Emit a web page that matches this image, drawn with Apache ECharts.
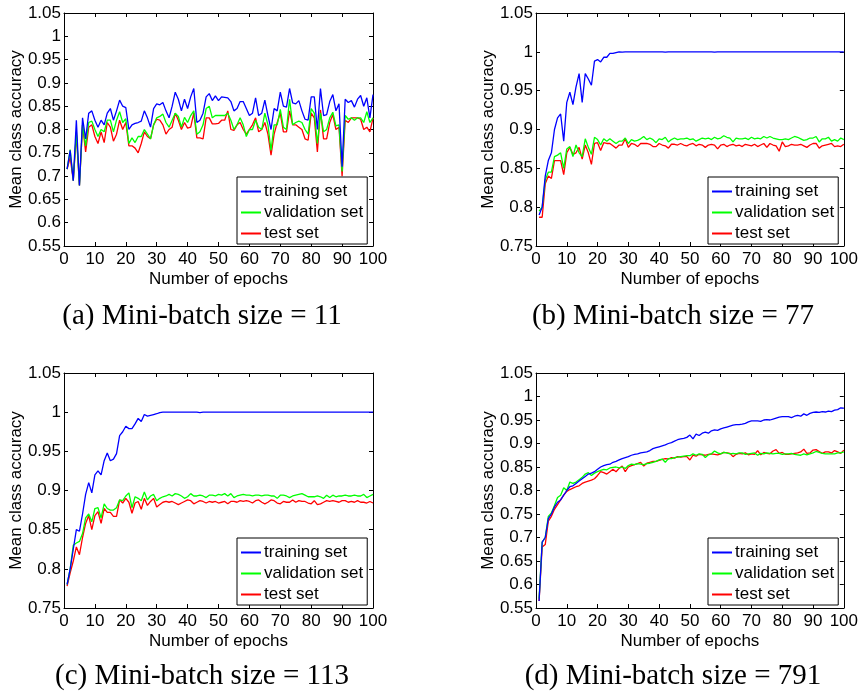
<!DOCTYPE html>
<html>
<head>
<meta charset="utf-8">
<script src="https://cdn.jsdelivr.net/npm/echarts@6/dist/echarts.min.js"></script>
<style>html,body{margin:0;padding:0;background:#fff}#c{width:861px;height:691px}</style>
</head>
<body>
<div id="c"></div>
<script>
const epochs = Array.from({length: 100}, (_, i) => i + 1);
const seriesNames = ['training set', 'validation set', 'test set'];
const captions = ['(a) Mini-batch size = 11', '(b) Mini-batch size = 77', '(c) Mini-batch size = 113', '(d) Mini-batch size = 791'];
const xTicks = {min: 0, max: 100, interval: 10};
const yRanges = [[0.55, 1.05], [0.75, 1.05], [0.75, 1.05], [0.55, 1.05]];

// (a) mini-batch 11
const trainA = [0.715,0.755,0.69,0.82,0.68,0.825,0.78,0.835,0.84,0.82,0.805,0.82,0.81,0.835,0.845,0.82,0.84,0.863,0.85,0.847,
0.80,0.81,0.813,0.815,0.818,0.84,0.825,0.805,0.845,0.855,0.853,0.858,0.84,0.825,0.85,0.88,0.865,0.84,0.865,0.845,
0.87,0.888,0.815,0.82,0.835,0.87,0.877,0.862,0.872,0.862,0.87,0.869,0.868,0.86,0.84,0.845,0.86,0.86,0.845,0.83,
0.835,0.868,0.83,0.835,0.863,0.83,0.80,0.845,0.84,0.88,0.85,0.848,0.888,0.857,0.855,0.862,0.84,0.822,0.82,0.87,
0.87,0.80,0.888,0.83,0.832,0.86,0.875,0.84,0.855,0.72,0.865,0.858,0.862,0.848,0.865,0.873,0.85,0.868,0.825,0.875];
const validA = [0.715,0.757,0.69,0.795,0.68,0.81,0.765,0.815,0.818,0.80,0.785,0.80,0.795,0.82,0.82,0.795,0.82,0.838,0.815,0.823,
0.77,0.782,0.772,0.785,0.785,0.80,0.79,0.78,0.81,0.825,0.828,0.833,0.815,0.805,0.82,0.835,0.828,0.805,0.826,0.815,
0.83,0.84,0.79,0.795,0.81,0.845,0.85,0.825,0.83,0.83,0.83,0.83,0.835,0.82,0.80,0.81,0.825,0.81,0.785,0.80,
0.80,0.82,0.805,0.80,0.835,0.81,0.755,0.81,0.81,0.843,0.805,0.80,0.865,0.81,0.815,0.818,0.815,0.80,0.79,0.845,
0.835,0.77,0.835,0.795,0.80,0.825,0.837,0.808,0.81,0.71,0.83,0.822,0.825,0.82,0.825,0.825,0.815,0.838,0.815,0.825];
const testA = [0.715,0.74,0.69,0.79,0.68,0.81,0.752,0.805,0.81,0.785,0.77,0.795,0.772,0.815,0.805,0.775,0.79,0.82,0.80,0.815,
0.765,0.765,0.76,0.75,0.77,0.795,0.785,0.78,0.81,0.822,0.82,0.81,0.79,0.80,0.805,0.835,0.82,0.80,0.815,0.803,
0.805,0.835,0.782,0.782,0.78,0.825,0.825,0.812,0.812,0.813,0.82,0.82,0.84,0.80,0.798,0.81,0.815,0.80,0.79,0.80,
0.81,0.825,0.795,0.80,0.815,0.79,0.745,0.79,0.815,0.835,0.795,0.795,0.84,0.81,0.81,0.805,0.80,0.78,0.777,0.835,
0.825,0.752,0.842,0.78,0.78,0.815,0.832,0.80,0.805,0.70,0.82,0.815,0.825,0.825,0.825,0.822,0.80,0.805,0.795,0.825];

// (b) mini-batch 77
const trainB = [0.79,0.80,0.84,0.86,0.87,0.90,0.915,0.92,0.885,0.935,0.948,0.932,0.955,0.972,0.935,0.972,0.965,0.957,0.988,0.99,
0.987,0.993,0.993,0.998,0.998,0.999,1.0,0.9995,1.0,1.0,1.0,1.0,1.0,1.0,1.0,1.0,1.0,1.0,1.0,1.0,
1.0,0.9995,1.0,1.0,1.0,1.0,1.0,1.0,1.0,1.0,1.0,1.0,1.0,1.0,1.0,1.0,1.0,0.9995,1.0,1.0,
1.0,1.0,1.0,1.0,1.0,1.0,1.0,1.0,1.0,1.0,1.0,1.0,1.0,1.0,1.0,1.0,1.0,1.0,1.0,1.0,
1.0,1.0,1.0,1.0,1.0,1.0,1.0,1.0,1.0,1.0,1.0,1.0,1.0,1.0,1.0,1.0,1.0,1.0,1.0,1.0];
const validB = [0.795,0.80,0.835,0.845,0.845,0.865,0.867,0.87,0.85,0.875,0.878,0.865,0.88,0.87,0.865,0.888,0.877,0.868,0.89,0.887,
0.88,0.888,0.885,0.888,0.885,0.882,0.885,0.885,0.889,0.882,0.887,0.885,0.886,0.888,0.891,0.887,0.889,0.887,0.883,0.888,
0.887,0.89,0.884,0.887,0.889,0.887,0.888,0.888,0.889,0.887,0.888,0.885,0.887,0.889,0.888,0.889,0.887,0.89,0.888,0.889,
0.892,0.89,0.889,0.884,0.889,0.888,0.888,0.889,0.887,0.89,0.888,0.889,0.888,0.891,0.889,0.891,0.889,0.888,0.887,0.887,
0.888,0.887,0.889,0.891,0.89,0.888,0.886,0.887,0.889,0.889,0.891,0.884,0.888,0.888,0.89,0.885,0.887,0.885,0.889,0.887];
const testB = [0.787,0.787,0.83,0.84,0.837,0.86,0.86,0.86,0.842,0.87,0.877,0.868,0.87,0.877,0.862,0.88,0.87,0.855,0.882,0.883,
0.873,0.883,0.882,0.882,0.879,0.876,0.88,0.88,0.888,0.877,0.882,0.881,0.878,0.882,0.882,0.882,0.881,0.878,0.878,0.882,
0.88,0.879,0.876,0.881,0.881,0.88,0.882,0.88,0.879,0.881,0.882,0.879,0.881,0.88,0.877,0.88,0.881,0.88,0.875,0.88,
0.881,0.878,0.88,0.881,0.879,0.88,0.878,0.881,0.88,0.879,0.881,0.878,0.88,0.882,0.877,0.882,0.88,0.879,0.872,0.884,
0.878,0.879,0.881,0.88,0.88,0.881,0.879,0.877,0.88,0.882,0.882,0.876,0.879,0.88,0.881,0.882,0.878,0.879,0.878,0.881];

// (c) mini-batch 113
const trainC = [0.78,0.80,0.825,0.85,0.848,0.87,0.895,0.91,0.897,0.92,0.925,0.92,0.938,0.948,0.938,0.94,0.947,0.97,0.975,0.982,
0.979,0.979,0.985,0.992,0.988,0.997,0.995,0.996,0.997,0.998,0.9995,1.0,1.0,1.0,1.0,1.0,1.0,1.0,1.0,1.0,
1.0,1.0,1.0,0.9995,1.0,1.0,1.0,1.0,1.0,1.0,1.0,1.0,1.0,1.0,1.0,1.0,1.0,1.0,1.0,1.0,
1.0,1.0,1.0,1.0,1.0,1.0,1.0,1.0,1.0,1.0,1.0,1.0,1.0,1.0,1.0,1.0,1.0,1.0,1.0,1.0,
1.0,1.0,1.0,1.0,1.0,1.0,1.0,1.0,1.0,1.0,1.0,1.0,1.0,1.0,1.0,1.0,1.0,1.0,1.0,1.0];
const validC = [0.78,0.80,0.83,0.833,0.835,0.845,0.865,0.87,0.86,0.877,0.878,0.865,0.883,0.877,0.875,0.875,0.878,0.888,0.887,0.893,
0.897,0.878,0.892,0.89,0.887,0.898,0.888,0.893,0.895,0.887,0.89,0.892,0.893,0.895,0.893,0.896,0.895,0.893,0.89,0.892,
0.896,0.893,0.893,0.894,0.893,0.891,0.894,0.894,0.893,0.895,0.894,0.896,0.893,0.896,0.891,0.893,0.894,0.895,0.894,0.894,
0.893,0.894,0.894,0.893,0.894,0.894,0.893,0.893,0.89,0.894,0.894,0.893,0.891,0.893,0.894,0.895,0.896,0.894,0.892,0.892,
0.892,0.893,0.892,0.89,0.894,0.891,0.894,0.892,0.893,0.893,0.894,0.893,0.893,0.894,0.893,0.893,0.895,0.891,0.893,0.895];
const testC = [0.778,0.795,0.81,0.828,0.818,0.84,0.858,0.868,0.85,0.868,0.873,0.858,0.877,0.872,0.872,0.867,0.867,0.888,0.884,0.89,
0.885,0.871,0.884,0.886,0.876,0.89,0.881,0.886,0.89,0.879,0.882,0.885,0.886,0.885,0.886,0.884,0.882,0.884,0.886,0.888,
0.887,0.883,0.885,0.887,0.886,0.884,0.886,0.885,0.886,0.884,0.885,0.886,0.883,0.886,0.886,0.885,0.887,0.886,0.887,0.886,
0.884,0.887,0.888,0.885,0.883,0.885,0.888,0.887,0.884,0.883,0.886,0.885,0.885,0.888,0.885,0.887,0.886,0.886,0.884,0.883,
0.887,0.882,0.883,0.885,0.887,0.886,0.887,0.886,0.885,0.887,0.887,0.885,0.886,0.885,0.887,0.885,0.885,0.884,0.886,0.884];

// (d) mini-batch 791
const trainD = [0.565,0.69,0.70,0.74,0.75,0.765,0.775,0.78,0.79,0.80,0.808,0.81,0.815,0.82,0.825,0.83,0.835,0.837,0.84,0.845,
0.85,0.853,0.855,0.856,0.86,0.862,0.865,0.868,0.87,0.872,0.875,0.877,0.878,0.88,0.881,0.882,0.885,0.889,0.891,0.893,
0.895,0.897,0.90,0.902,0.905,0.908,0.91,0.911,0.913,0.918,0.91,0.92,0.917,0.922,0.924,0.922,0.927,0.929,0.928,0.931,
0.933,0.935,0.937,0.939,0.94,0.94,0.941,0.943,0.946,0.948,0.948,0.948,0.947,0.95,0.951,0.95,0.952,0.954,0.956,0.957,
0.957,0.957,0.955,0.958,0.96,0.958,0.963,0.96,0.964,0.966,0.967,0.966,0.968,0.967,0.969,0.968,0.971,0.972,0.976,0.975];
const validD = [0.57,0.69,0.70,0.745,0.752,0.768,0.785,0.79,0.806,0.80,0.818,0.815,0.818,0.823,0.828,0.835,0.838,0.832,0.837,0.84,
0.843,0.845,0.844,0.848,0.849,0.85,0.848,0.85,0.847,0.853,0.856,0.855,0.857,0.856,0.855,0.857,0.858,0.86,0.862,0.865,
0.867,0.86,0.868,0.868,0.87,0.871,0.872,0.873,0.874,0.874,0.878,0.875,0.878,0.877,0.87,0.876,0.878,0.884,0.88,0.878,
0.881,0.88,0.878,0.879,0.878,0.88,0.88,0.877,0.878,0.879,0.88,0.875,0.879,0.878,0.88,0.879,0.878,0.879,0.879,0.877,
0.878,0.878,0.879,0.877,0.876,0.875,0.878,0.876,0.878,0.88,0.883,0.881,0.879,0.878,0.878,0.878,0.878,0.88,0.88,0.882];
const testD = [0.565,0.68,0.685,0.735,0.745,0.76,0.77,0.78,0.79,0.798,0.802,0.805,0.808,0.81,0.815,0.818,0.82,0.822,0.825,0.832,
0.84,0.838,0.835,0.84,0.845,0.84,0.847,0.852,0.84,0.85,0.853,0.855,0.857,0.86,0.852,0.858,0.86,0.862,0.862,0.864,
0.866,0.868,0.867,0.87,0.869,0.872,0.871,0.872,0.872,0.865,0.875,0.873,0.877,0.876,0.875,0.877,0.878,0.877,0.876,0.878,
0.881,0.88,0.879,0.872,0.877,0.879,0.878,0.88,0.876,0.878,0.877,0.885,0.876,0.881,0.879,0.878,0.884,0.887,0.879,0.881,
0.877,0.877,0.878,0.879,0.88,0.882,0.888,0.879,0.88,0.886,0.887,0.883,0.879,0.882,0.882,0.88,0.885,0.882,0.879,0.886];

const panelData = [[trainA, validA, testA], [trainB, validB, testB], [trainC, validC, testC], [trainD, validD, testD]];
const colors = ['#0000ff', '#00ff00', '#ff0000'];

// layout
const grids = [
  {left: 64, top: 13, width: 309, height: 233},
  {left: 536, top: 13, width: 309, height: 233},
  {left: 64, top: 373, width: 309, height: 235},
  {left: 536, top: 373, width: 309, height: 235}
];
const legendPos = [
  {left: 237, top: 177}, {left: 708, top: 177}, {left: 237, top: 538}, {left: 708, top: 538}
];
const captionPos = [[202, 316], [673, 316], [202, 676], [673, 676]];
const SANS = '"Liberation Sans", Arial, Helvetica, sans-serif';
const FS = 17;

const xAxis = [], yAxis = [], series = [], legend = [], graphic = [];
grids.forEach((g, i) => {
  const tick = {show: true, inside: true, length: 4, lineStyle: {color: '#000', width: 1}};
  const line = {show: true, onZero: false, lineStyle: {color: '#000', width: 1}};
  xAxis.push({type: 'value', gridIndex: i, position: 'bottom', min: xTicks.min, max: xTicks.max, interval: xTicks.interval,
    axisLine: line, axisTick: tick, splitLine: {show: false},
    axisLabel: {color: '#000', fontFamily: SANS, fontSize: FS, margin: 5},
    name: 'Number of epochs', nameLocation: 'middle', nameGap: 25, nameMoveOverlap: false,
    nameTextStyle: {color: '#000', fontFamily: SANS, fontSize: FS}});
  xAxis.push({type: 'value', gridIndex: i, position: 'top', min: xTicks.min, max: xTicks.max, interval: xTicks.interval,
    axisLine: line, axisTick: tick, splitLine: {show: false}, axisLabel: {show: false}});
  const [ymin, ymax] = yRanges[i];
  yAxis.push({type: 'value', gridIndex: i, position: 'left', min: ymin, max: ymax, interval: 0.05,
    axisLine: line, axisTick: tick, splitLine: {show: false},
    axisLabel: {color: '#000', fontFamily: SANS, fontSize: FS, margin: 3},
    name: 'Mean class accuracy', nameLocation: 'middle', nameGap: 39, nameMoveOverlap: false,
    nameTextStyle: {color: '#000', fontFamily: SANS, fontSize: FS}});
  yAxis.push({type: 'value', gridIndex: i, position: 'right', min: ymin, max: ymax, interval: 0.05,
    axisLine: line, axisTick: tick, splitLine: {show: false}, axisLabel: {show: false}});
  panelData[i].forEach((vals, k) => {
    series.push({type: 'line', name: seriesNames[k], xAxisIndex: 2 * i, yAxisIndex: 2 * i,
      data: epochs.map((e, j) => [e, vals[j]]), symbol: 'none', silent: true, animation: false,
      lineStyle: {color: colors[k], width: 1.3}, itemStyle: {color: colors[k]}, z: 3 - k + 2});
  });
  legend.push({data: seriesNames, orient: 'vertical', left: legendPos[i].left, top: legendPos[i].top,
    itemWidth: 20, itemHeight: 2, itemGap: 4, padding: [6, 4, 2, 4],
    backgroundColor: '#fff', borderColor: '#000', borderWidth: 1, borderRadius: 0, selectedMode: false,
    icon: 'rect',
    textStyle: {color: '#000', fontFamily: SANS, fontSize: FS, lineHeight: 17, padding: [0, 0, 0, -2]}});
  graphic.push({type: 'text', x: captionPos[i][0], y: captionPos[i][1], silent: true,
    style: {text: captions[i], font: '29px "Liberation Serif", "Times New Roman", serif', fill: '#000',
      textAlign: 'center', textVerticalAlign: 'middle'}});
});

const chart = echarts.init(document.getElementById('c'), null, {renderer: 'canvas'});
chart.setOption({
  animation: false, backgroundColor: '#fff',
  grid: grids.map(g => Object.assign({containLabel: false}, g)),
  xAxis, yAxis, series, legend, graphic
});
</script>
</body>
</html>
